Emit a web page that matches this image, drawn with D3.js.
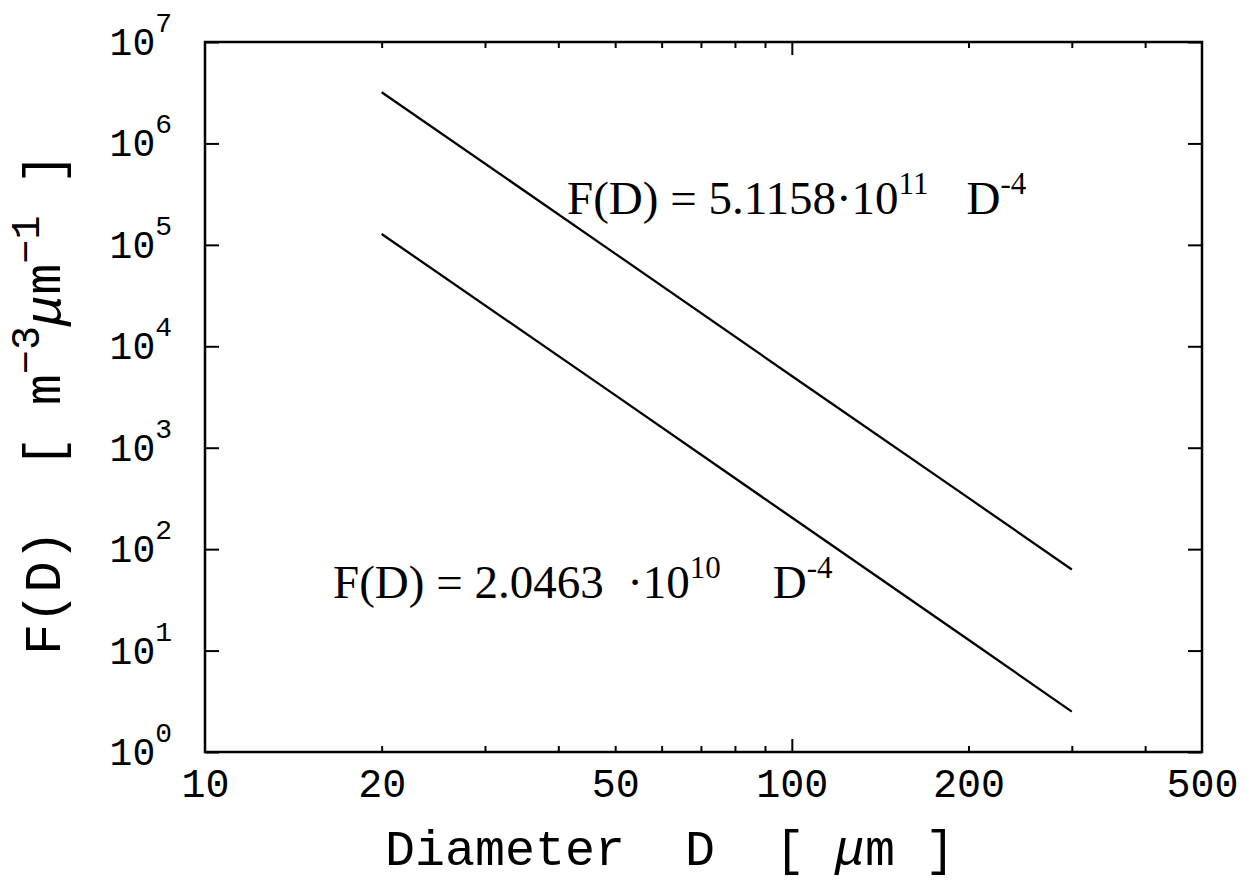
<!DOCTYPE html>
<html>
<head>
<meta charset="utf-8">
<script src="https://cdn.jsdelivr.net/npm/d3@7"></script>
<style>
  html, body { margin: 0; padding: 0; background: #fff; }
  svg { display: block; }
  .mono { font-family: "Liberation Mono", "Courier New", monospace; fill: #000; }
  .serif { font-family: "Liberation Serif", "Times New Roman", serif; fill: #000; }
</style>
</head>
<body>
<div id="chart"></div>
<script>
// values
const diameters = [20, 50, 100, 200, 300];
const upperValues = [3.2e6, 8.2e4, 5.1e3, 320, 63];
const lowerValues = [1.28e5, 3.3e3, 205, 12.8, 2.5];

const xLabelTicks = [10, 20, 50, 100, 200, 500];
const xMinorTicks = [20, 30, 40, 50, 60, 70, 80, 90, 200, 300, 400];
const xMajorTicks = [100];
const yTicks = [1, 10, 100, 1e3, 1e4, 1e5, 1e6, 1e7];
const yExponents = ["0", "1", "2", "3", "4", "5", "6", "7"];

const width = 1246, height = 886;
const mLeft = 205, mRight = 1202, mTop = 42, mBottom = 752;

const svg = d3.select("#chart").append("svg")
  .attr("width", width)
  .attr("height", height);

const x = d3.scaleLog().domain([10, 500]).range([mLeft, mRight]);
const y = d3.scaleLog().domain([1, 1e7]).range([mBottom, mTop]);

// tick marks, all pointing inward
function ticks(axis, tx, ty) {
  const g = svg.append("g").attr("transform", `translate(${tx},${ty})`).call(axis);
  g.select(".domain").remove();
  g.selectAll(".tick line").attr("stroke", "#000").attr("stroke-width", 2);
  g.selectAll(".tick text").remove();
  return g;
}
ticks(d3.axisBottom(x).tickValues(xMinorTicks).tickSize(-6), 0, mBottom);
ticks(d3.axisBottom(x).tickValues(xMajorTicks).tickSize(-13), 0, mBottom);
ticks(d3.axisTop(x).tickValues(xMinorTicks).tickSize(-6), 0, mTop);
ticks(d3.axisTop(x).tickValues(xMajorTicks).tickSize(-13), 0, mTop);
ticks(d3.axisLeft(y).tickValues(yTicks).tickSize(-14), mLeft, 0);
ticks(d3.axisRight(y).tickValues(yTicks).tickSize(-14), mRight, 0);

// frame
svg.append("rect")
  .attr("x", mLeft).attr("y", mTop)
  .attr("width", mRight - mLeft).attr("height", mBottom - mTop)
  .attr("fill", "none").attr("stroke", "#000").attr("stroke-width", 2.5);

// x labels
const xl = svg.append("g")
  .attr("transform", `translate(0,${mBottom})`)
  .call(d3.axisBottom(x).tickValues(xLabelTicks).tickSize(0).tickFormat(d3.format("d")));
xl.select(".domain").remove();
xl.selectAll(".tick text")
  .attr("class", "mono")
  .attr("font-size", 40)
  .attr("y", 45).attr("dy", 0);

// y labels 10^n
const yl = svg.append("g").selectAll("text")
  .data(yTicks)
  .join("text")
  .attr("class", "mono")
  .attr("text-anchor", "end")
  .attr("x", mLeft - 33)
  .attr("y", d => y(d) + 13)
  .attr("font-size", 38);
yl.append("tspan").text("10");
yl.append("tspan")
  .attr("font-size", 28)
  .attr("dy", -23)
  .text((d, i) => yExponents[i]);

// lines
const line = d3.line().x(d => x(d[0])).y(d => y(d[1]));
[upperValues, lowerValues].forEach(vals => {
  svg.append("path")
    .datum(diameters.map((d, i) => [d, vals[i]]))
    .attr("d", line)
    .attr("fill", "none")
    .attr("stroke", "#000")
    .attr("stroke-width", 2.3);
});

// equations
function equation(px, py, coef, exp, gap) {
  const t = svg.append("text").attr("class", "serif")
    .attr("x", px).attr("y", py).attr("font-size", 47)
    .attr("xml:space", "preserve");
  t.append("tspan").text("F(D) = " + coef + "\u00b710");
  t.append("tspan").attr("font-size", 31).attr("dy", -20).text(exp);
  t.append("tspan").attr("dy", 20).attr("dx", gap).text("D");
  t.append("tspan").attr("font-size", 31).attr("dy", -20).text("-4");
}
equation(567, 214, "5.1158", "11", 38);
equation(333, 598, "2.0463  ", "10", 52);

// axis titles
svg.append("text").attr("class", "mono")
  .attr("x", 385).attr("y", 865)
  .attr("font-size", 50)
  .attr("xml:space", "preserve")
  .html('Diameter  D  [ <tspan font-style="italic">\u03bc</tspan>m ]');

const yt = svg.append("text").attr("class", "mono")
  .attr("transform", "translate(60,404) rotate(-90)")
  .attr("text-anchor", "middle")
  .attr("font-size", 52)
  .attr("xml:space", "preserve");
yt.append("tspan").text("F(D)  [ m");
yt.append("tspan").attr("font-size", 40).attr("dy", -21).text("\u22123");
yt.append("tspan").attr("dy", 21).attr("font-style", "italic").text("\u03bc");
yt.append("tspan").text("m");
yt.append("tspan").attr("font-size", 40).attr("dy", -21).text("\u22121");
yt.append("tspan").attr("dy", 21).text(" ]");
</script>
</body>
</html>
